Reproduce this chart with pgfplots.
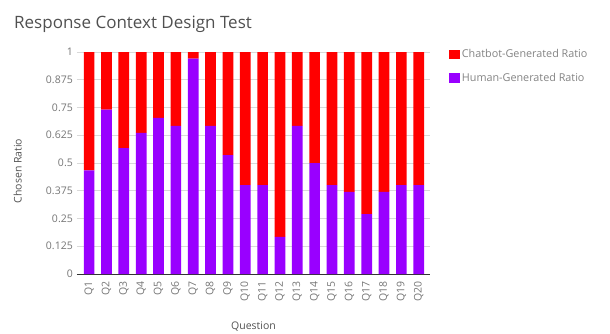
\documentclass[border=0pt]{standalone}
\usepackage{pgfplots}
\pgfplotsset{compat=1.18}
\usepackage{fontspec}
\setmainfont{Open Sans}
\definecolor{chatred}{HTML}{FF0000}
\definecolor{humanpurple}{HTML}{9900FF}
\definecolor{ticktext}{HTML}{757575}
\definecolor{titletext}{HTML}{505050}
\definecolor{gridgray}{HTML}{D9D9D9}
\definecolor{axisdark}{HTML}{333333}

\pgfplotstableread{
q  human   chatbot
1  0.467   0.533
2  0.740   0.260
3  0.567   0.433
4  0.636   0.364
5  0.703   0.297
6  0.667   0.333
7  0.970   0.030
8  0.667   0.333
9  0.535   0.465
10 0.400   0.600
11 0.400   0.600
12 0.167   0.833
13 0.667   0.333
14 0.500   0.500
15 0.400   0.600
16 0.370   0.630
17 0.270   0.730
18 0.370   0.630
19 0.400   0.600
20 0.400   0.600
}\ratios

\begin{document}
\begin{tikzpicture}[x=1pt,y=1pt]
\path[use as bounding box] (0,0) rectangle (610,333);
\node[anchor=base west, font=\fontsize{17}{20}\selectfont, text=titletext, inner sep=0pt]
  at (14,305) {Response Context Design Test};
\begin{axis}[
  at={(77pt,59pt)}, anchor=south west,
  scale only axis, width=353pt, height=222pt,
  ybar stacked, bar width=10.7pt,
  xmin=0.3, xmax=20.65,
  ymin=0, ymax=1,
  ytick={0,0.125,0.25,0.375,0.5,0.625,0.75,0.875,1},
  yticklabels={0,0.125,0.25,0.375,0.5,0.625,0.75,0.875,1},
  xtick={1,...,20},
  xticklabels={Q1,Q2,Q3,Q4,Q5,Q6,Q7,Q8,Q9,Q10,Q11,Q12,Q13,Q14,Q15,Q16,Q17,Q18,Q19,Q20},
  xticklabel style={rotate=90, anchor=east, font=\fontsize{10.5}{12}\selectfont, text=ticktext, inner sep=0pt, xshift=-7pt},
  yticklabel style={font=\fontsize{10.5}{12}\selectfont, text=ticktext, inner sep=0pt, xshift=-4pt},
  major tick length=0pt,
  ymajorgrids, grid style={gridgray, line width=0.6pt},
  axis line style={draw=none},
  axis x line*=bottom,
  x axis line style={draw=axisdark, line width=0.8pt},
  axis y line*=left,
  y axis line style={draw=none},
  xlabel={Question}, ylabel={Chosen Ratio},
  label style={font=\fontsize{10.5}{12}\selectfont, text=axisdark!85},
  xlabel style={at={(axis description cs:0.5,0)}, anchor=base, yshift=-55pt},
  ylabel style={at={(axis description cs:-0.168,0.464)}, anchor=center, rotate=0},
  legend style={at={(axis description cs:1.053,1.02)}, anchor=north west, draw=none, fill=none,
    font=\fontsize{10.8}{12}\selectfont, text=ticktext!90, row sep=10pt, inner sep=0pt,
    /tikz/every even column/.append style={column sep=6pt}},
  legend cell align=left,
  legend image code/.code={\fill[#1] (0pt,-4.5pt) rectangle (11pt,5pt);},
  reverse legend,
  clip=false,
]
\addplot[fill=humanpurple, draw=none] table[x=q, y=human] {\ratios};
\addplot[fill=chatred, draw=none] table[x=q, y=chatbot] {\ratios};
\legend{Human-Generated Ratio, Chatbot-Generated Ratio}
\end{axis}
\end{tikzpicture}
\end{document}
